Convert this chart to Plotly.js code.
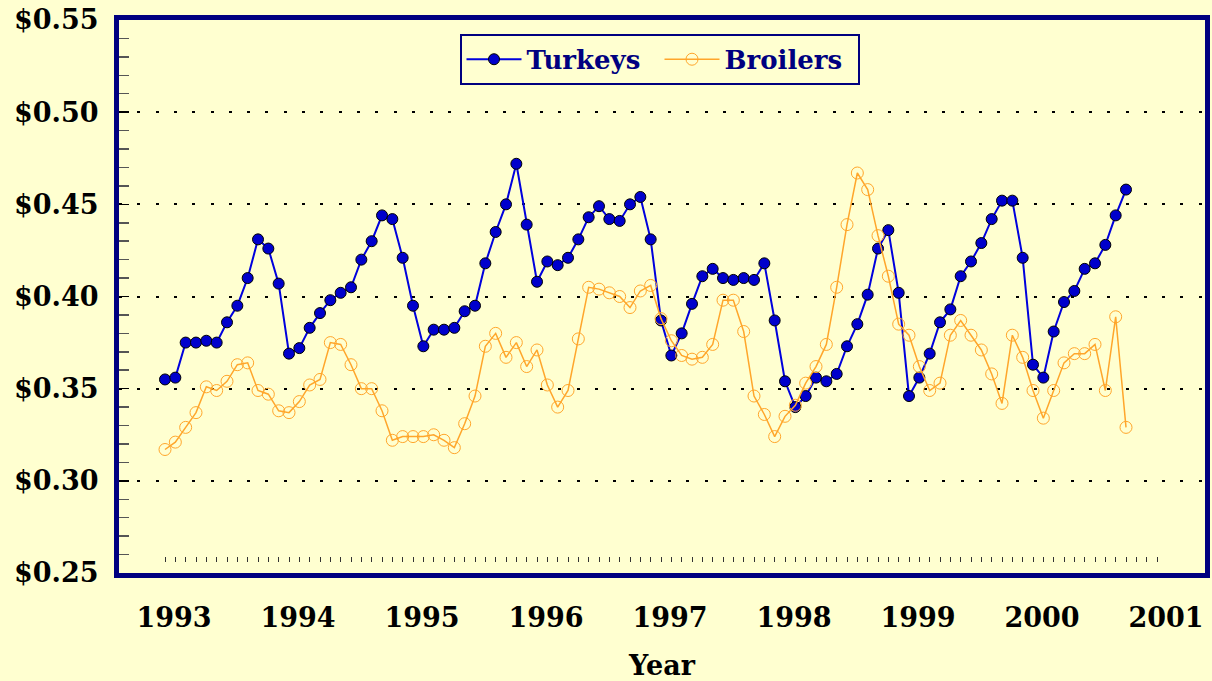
<!DOCTYPE html>
<html>
<head>
<meta charset="utf-8">
<script src="https://cdn.plot.ly/plotly-3.0.1.min.js"></script>
<style>html,body{margin:0;padding:0;background:#FFFFD0;}</style>
</head>
<body>
<div id="chart" style="width:1212px;height:681px;"></div>
<script>
const years = [1993, 1994, 1995, 1996, 1997, 1998, 1999, 2000, 2001];
const startYear = 1993;

const turkeys = [
  0.355, 0.356, 0.375, 0.375, 0.376, 0.375, 0.386, 0.395, 0.410, 0.431, 0.426, 0.407,
  0.369, 0.372, 0.383, 0.391, 0.398, 0.402, 0.405, 0.420, 0.430, 0.444, 0.442, 0.421,
  0.395, 0.373, 0.382, 0.382, 0.383, 0.392, 0.395, 0.418, 0.435, 0.450, 0.472, 0.439,
  0.408, 0.419, 0.417, 0.421, 0.431, 0.443, 0.449, 0.442, 0.441, 0.450, 0.454, 0.431,
  0.387, 0.368, 0.380, 0.396, 0.411, 0.415, 0.410, 0.409, 0.410, 0.409, 0.418, 0.387,
  0.354, 0.340, 0.346, 0.356, 0.354, 0.358, 0.373, 0.385, 0.401, 0.426, 0.436, 0.402,
  0.346, 0.356, 0.369, 0.386, 0.393, 0.411, 0.419, 0.429, 0.442, 0.452, 0.452, 0.421,
  0.363, 0.356, 0.381, 0.397, 0.403, 0.415, 0.418, 0.428, 0.444, 0.458
];

const broilers = [
  0.317, 0.321, 0.329, 0.337, 0.351, 0.349, 0.354, 0.363, 0.364, 0.349, 0.347, 0.338,
  0.337, 0.343, 0.352, 0.355, 0.375, 0.374, 0.363, 0.350, 0.350, 0.338, 0.322, 0.324,
  0.324, 0.324, 0.325, 0.322, 0.318, 0.331, 0.346, 0.373, 0.380, 0.367, 0.375, 0.362,
  0.371, 0.352, 0.340, 0.349, 0.377, 0.405, 0.404, 0.402, 0.400, 0.394, 0.403, 0.406,
  0.388, 0.376, 0.368, 0.366, 0.367, 0.374, 0.398, 0.398, 0.381, 0.346, 0.336, 0.324,
  0.335, 0.341, 0.353, 0.362, 0.374, 0.405, 0.439, 0.467, 0.458, 0.433, 0.411, 0.385,
  0.379, 0.362, 0.349, 0.353, 0.379, 0.387, 0.379, 0.371, 0.358, 0.342, 0.379, 0.367,
  0.349, 0.334, 0.349, 0.364, 0.369, 0.369, 0.374, 0.349, 0.389, 0.329
];

// monthly positions (fractional years)
const months = turkeys.map((_, i) => startYear + i / 12);
const monthTicks = [];
for (let m = 0; m <= (years[years.length - 1] - startYear) * 12; m++) monthTicks.push(startYear + m / 12);

const BG = '#FFFFD0';
const NAVY = '#000080';
const FONT = 'DejaVu Serif';
const xRange = [1992.629, 2001.387];

const traces = [
  {
    x: months, y: turkeys, name: 'Turkeys', type: 'scatter', mode: 'lines+markers',
    line: {color: '#0000DD', width: 2},
    marker: {symbol: 'circle', size: 11, color: '#0000CC', line: {color: '#000000', width: 1}}
  },
  {
    x: months, y: broilers, name: 'Broilers', type: 'scatter', mode: 'lines+markers',
    line: {color: '#FFA62B', width: 1.5},
    marker: {symbol: 'circle-open', size: 12, color: '#FFA62B', line: {width: 1}}
  },
  {x: [], y: [], xaxis: 'x2', showlegend: false, hoverinfo: 'skip', type: 'scatter'}
];

const layout = {
  width: 1212, height: 681,
  margin: {l: 119, r: 7, t: 20, b: 108},
  paper_bgcolor: BG, plot_bgcolor: BG,
  showlegend: true,
  legend: {
    orientation: 'h', x: 0.4977, xanchor: 'center', y: 0.975, yanchor: 'top',
    bgcolor: BG, bordercolor: NAVY, borderwidth: 2, itemwidth: 55,
    entrywidth: 128,
    font: {family: FONT, size: 26, color: NAVY, weight: 'bold'}
  },
  xaxis: {
    range: xRange, tickmode: 'array',
    tickvals: years.map(y => y + 0.073), ticktext: years.map(String),
    ticks: '', showgrid: false, zeroline: false,
    showline: true, linecolor: NAVY, linewidth: 5, mirror: true,
    tickfont: {family: FONT, size: 27, color: '#000000', weight: 'bold'},
    ticklabelstandoff: 17,
    title: {text: 'Year', standoff: 28, font: {family: FONT, size: 27, color: '#000000', weight: 'bold'}}
  },
  xaxis2: {
    overlaying: 'x', anchor: 'free', position: 0.0195, side: 'bottom',
    range: xRange, tickmode: 'array', tickvals: monthTicks,
    ticks: 'inside', ticklen: 5, tickwidth: 1, tickcolor: '#333333',
    showticklabels: false, showline: false, showgrid: false, zeroline: false
  },
  yaxis: {
    range: [0.25, 0.55], tick0: 0.25, dtick: 0.05, tickformat: '$.2f',
    showgrid: true, gridcolor: '#000000', gridwidth: 2, griddash: '3px,15.3px',
    zeroline: false,
    ticks: 'inside', ticklen: 10, tickwidth: 1.5, tickcolor: '#000000',
    minor: {dtick: 0.01, tick0: 0.25, ticks: 'inside', ticklen: 10, tickwidth: 1.5, tickcolor: '#555555', showgrid: false},
    showline: true, linecolor: NAVY, linewidth: 5, mirror: true,
    tickfont: {family: FONT, size: 27, color: '#000000', weight: 'bold'},
    ticklabelstandoff: 10
  }
};

Plotly.newPlot('chart', traces, layout, {displayModeBar: false, staticPlot: true});
</script>
</body>
</html>
